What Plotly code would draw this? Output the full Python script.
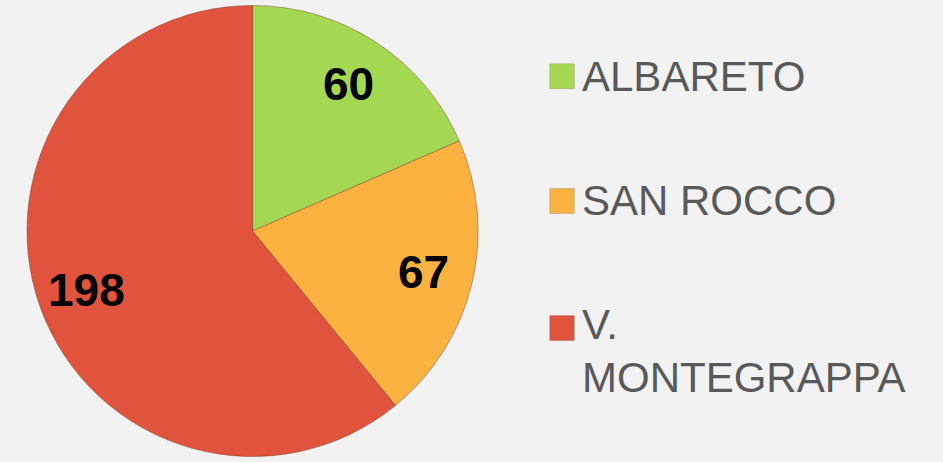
import math
import plotly.graph_objects as go

labels = ["ALBARETO", "SAN ROCCO", "V.<br>MONTEGRAPPA"]
values = [60, 67, 198]
colors = ["#a5d852", "#fcb240", "#e0543d"]

FONT = "Liberation Sans, Arial, sans-serif"
W, H = 943, 462
PIE_X = [0.0286, 0.507]
PIE_Y = [0.011, 0.989]

fig = go.Figure(go.Pie(
    labels=labels,
    values=values,
    sort=False,
    direction="clockwise",
    rotation=0,
    marker=dict(colors=colors, line=dict(color="rgba(120,60,40,0.45)", width=1)),
    textinfo="none",
    domain=dict(x=PIE_X, y=PIE_Y),
    showlegend=False,
    hoverinfo="label+value",
))

# etichette dei valori, verso il bordo della fetta
cx = (PIE_X[0] + PIE_X[1]) / 2 * W
cy = (PIE_Y[0] + PIE_Y[1]) / 2 * H
radius = min((PIE_X[1] - PIE_X[0]) * W, (PIE_Y[1] - PIE_Y[0]) * H) / 2
total = sum(values)
start = 0.0
for v in values:
    mid = math.radians((start + v / 2) / total * 360)
    start += v
    r = radius * 0.78
    fig.add_annotation(
        x=(cx + r * math.sin(mid)) / W, y=(cy + r * math.cos(mid)) / H,
        xref="paper", yref="paper", text=str(v), showarrow=False,
        xanchor="center", yanchor="middle",
        font=dict(family=FONT, size=46, color="black", weight="bold"),
    )

# legenda a destra (una riga per annotazione, interlinea stretta)
legend_y = [0.835, 0.565, 0.29]
line_gap = 49 / H
for lab, col, y in zip(labels, colors, legend_y):
    fig.add_shape(
        type="rect", xref="paper", yref="paper",
        x0=0.583, x1=0.609, y0=y - 0.027, y1=y + 0.027,
        fillcolor=col, line=dict(color="rgba(0,0,0,0.15)", width=1),
    )
    for i, part in enumerate(lab.split("<br>")):
        fig.add_annotation(
            x=0.615, y=y + 0.008 * (i == 0 and "<br>" in lab) - i * line_gap,
            xref="paper", yref="paper",
            text=part, showarrow=False, xanchor="left", yanchor="middle",
            font=dict(family=FONT, size=42, color="#595959"),
        )

fig.update_layout(
    width=W,
    height=H,
    margin=dict(l=0, r=0, t=0, b=0),
    paper_bgcolor="#f2f2f2",
    plot_bgcolor="#f2f2f2",
)

fig.write_html(
    "out.html",
    config={"displayModeBar": False},
    post_script="document.body.style.margin='0';document.body.style.background='#f2f2f2';",
)
